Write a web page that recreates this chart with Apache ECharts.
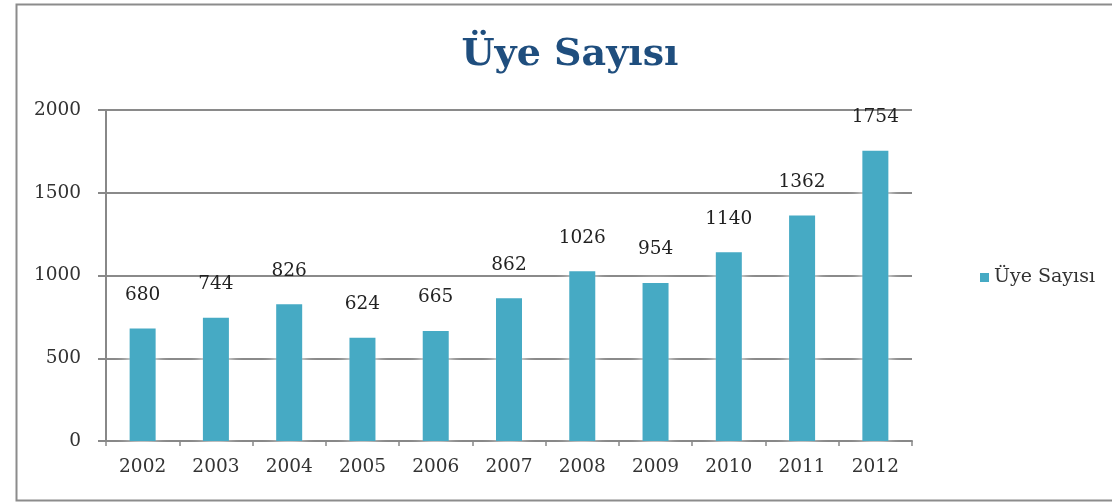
<!DOCTYPE html>
<html><head><meta charset="utf-8">
<script src="https://cdn.jsdelivr.net/npm/echarts@6/dist/echarts.min.js"></script>
<style>html,body{margin:0;padding:0;background:#fff}#c{width:1112px;height:502px}</style>
</head><body><div id="c"></div>
<script>
const title = "Üye Sayısı";
const seriesName = "Üye Sayısı";
const years = ["2002","2003","2004","2005","2006","2007","2008","2009","2010","2011","2012"];
const members = [680,744,826,624,665,862,1026,954,1140,1362,1754];

const chart = echarts.init(document.getElementById('c'));
const serif = "'DejaVu Serif', 'Liberation Serif', serif";
chart.setOption({
  animation: false,
  backgroundColor: '#fff',
  graphic: [{type:'rect', left:14, top:2, shape:{width:1120, height:496}, style:{fill:'none', stroke:'#8c8c8c', lineWidth:2}, silent:true}],
  title: {text: title, left: 565, top: 31, textAlign: 'center',
    textStyle:{fontFamily: serif, fontWeight:'bold', fontSize:38, color:'#1F4E7E'}},
  legend: {right: 12, top: 263, icon:'rect', itemWidth:9, itemHeight:9, itemGap:4,
    textStyle:{fontFamily: serif, fontSize:19, color:'#333'}},
  grid: {left:106, right:200, top:110, bottom:61},
  xAxis: {type:'category', data: years,
    axisLine:{lineStyle:{color:'#888', width:2}},
    axisTick:{show:true, length:5, lineStyle:{color:'#888', width:1.5}},
    axisLabel:{fontFamily: serif, fontSize:18.5, color:'#333', margin:17}},
  yAxis: {type:'value', min:0, max:2000, interval:500,
    axisLine:{show:true, lineStyle:{color:'#888', width:2}},
    axisTick:{show:true, length:8, lineStyle:{color:'#888', width:2}},
    splitLine:{lineStyle:{color:'#8a8a8a', width:2}},
    axisLabel:{fontFamily: serif, fontSize:18.5, color:'#333', margin:25, formatter: v => String(v)}},
  series: [{name: seriesName, type:'bar', data: members, barWidth:26,
    itemStyle:{color:'#46AAC4', shadowColor:'rgba(255,255,255,1)', shadowBlur:14},
    label:{show:true, position:'top', distance:24, fontFamily: serif, fontSize:18.5, color:'#222'}}]
});
</script></body></html>
